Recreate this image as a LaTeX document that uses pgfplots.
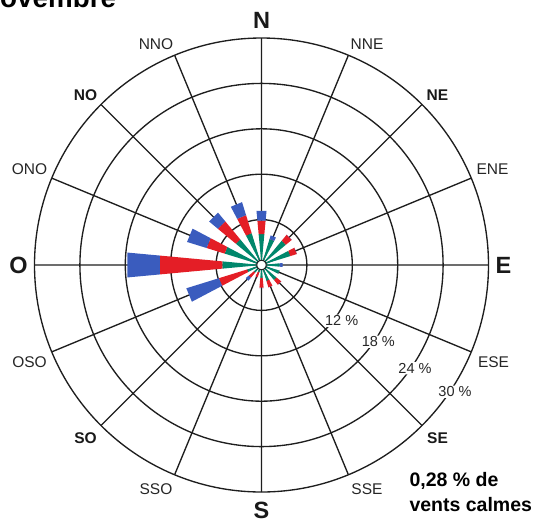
\documentclass[border=0pt]{standalone}
\usepackage{fontspec}
\setmainfont{Liberation Sans}
\usepackage{pgfplots}
\usepackage{pgfplotstable}
\pgfplotsset{compat=1.18}
\usepgfplotslibrary{polar}

\definecolor{roseblue}{RGB}{58,92,190}
\definecolor{rosered}{RGB}{228,30,38}
\definecolor{rosegreen}{RGB}{0,135,108}
\definecolor{gridc}{RGB}{30,30,30}

\newcommand\fbig{\fontsize{23.5}{28}\selectfont\bfseries}
\newcommand\fmid{\fontsize{15.5}{18}\selectfont\bfseries}
\newcommand\freg{\fontsize{15.5}{18}\selectfont}
\newcommand\fpct{\fontsize{14.5}{17}\selectfont}
\newcommand\fcalm{\fontsize{19.5}{23}\selectfont\bfseries}
\newcommand\ftitle{\fontsize{27.8}{32}\selectfont\bfseries}

% wind direction (math angle), cumulative % : green, red, blue
\pgfplotstableread{
ang    g    r     b
90     4.1  5.9   7.2
67.5   3.6  3.6   4.1
45     4.2  5.2   5.2
22.5   4.0  4.9   4.9
360    2.4  2.4   2.8
337.5  2.5  2.5   2.5
315    2.6  3.4   3.4
292.5  2.2  3.1   3.1
270    1.7  3.0   3.0
247.5  1.0  1.7   1.7
225    1.3  2.2   2.7
202.5  2.0  5.9   10.4
180    5.2  13.5  17.8
157.5  5.1  7.6   10.3
135    4.4  7.5   9.0
112.5  4.4  6.9   8.7
}\rose

\begin{document}
\begin{tikzpicture}
\begin{polaraxis}[
  scale only axis, width=454pt, height=454pt,
  xmin=0, xmax=360, ymin=0, ymax=30,
  xtick={0,22.5,...,337.5}, ytick={6,12,18,24},
  xticklabels={}, yticklabels={},
  grid=major,
  major grid style={draw=gridc, line width=1.35pt},
  x axis line style={draw=gridc, line width=1.35pt},
  y axis line style={draw=none},
  major tick length=0pt,
  clip=false,
]
\pgfplotsforeachungrouped \k in {0,...,15}{%
  \pgfplotstablegetelem{\k}{ang}\of\rose
  \pgfmathsetmacro\aL{\pgfplotsretval-5.3}%
  \pgfmathsetmacro\aR{\pgfplotsretval+5.3}%
  \pgfplotstablegetelem{\k}{g}\of\rose \let\vg\pgfplotsretval
  \pgfplotstablegetelem{\k}{r}\of\rose \let\vr\pgfplotsretval
  \pgfplotstablegetelem{\k}{b}\of\rose \let\vb\pgfplotsretval
  \edef\tmp{%
    \noexpand\addplot[draw=none, fill=rosegreen] coordinates {(\aL,0) (\aL,\vg) (\aR,\vg) (\aR,0)} -- cycle;
    \noexpand\addplot[draw=none, fill=rosered] coordinates {(\aL,\vg) (\aL,\vr) (\aR,\vr) (\aR,\vg)} -- cycle;
    \noexpand\addplot[draw=none, fill=roseblue] coordinates {(\aL,\vr) (\aL,\vb) (\aR,\vb) (\aR,\vr)} -- cycle;
  }\tmp
}
% calm circle in the middle
\addplot[fill=white, draw=gridc, line width=1pt] coordinates {
  (0,0.62) (22.5,0.62) (45,0.62) (67.5,0.62) (90,0.62) (112.5,0.62) (135,0.62) (157.5,0.62)
  (180,0.62) (202.5,0.62) (225,0.62) (247.5,0.62) (270,0.62) (292.5,0.62) (315,0.62) (337.5,0.62)} -- cycle;
\coordinate (C) at (axis cs:0,0);
\end{polaraxis}

\pgfresetboundingbox
\path[use as bounding box] ([shift={(-261.5pt,-258pt)}]C) rectangle ([shift={(283.5pt,265pt)}]C);

\node[anchor=base west, inner sep=0, font=\ftitle] at ([shift={(-281.6pt,257.7pt)}]C) {Novembre};

\foreach \x/\y/\t in {0/245/N, 242/0/E, 0/-245/S, -243/0/O}
  \node[font=\fbig, text=black!90] at ([shift={(\x pt,\y pt)}]C) {\t};
\foreach \x/\y/\t in {176/170/NE, 176/-173/SE, -176/-173/SO, -176/170/NO}
  \node[font=\fmid, text=black!90] at ([shift={(\x pt,\y pt)}]C) {\t};
\foreach \x/\y/\t in {105.5/221/NNE, 231/96/ENE, 232/-97/ESE, 105.5/-224/SSE,
                      -105.5/-224/SSO, -232/-97/OSO, -232/96/ONO, -105.5/221/NNO}
  \node[font=\freg, text=black!85] at ([shift={(\x pt,\y pt)}]C) {\t};

\foreach \x/\y/\t in {80.2/-55.7/12, 116.8/-76.7/18, 153.5/-103.3/24, 193.5/-126.7/30}
  \node[font=\fpct, text=black!85, fill=white, inner sep=1pt, rounded corners=3pt]
    at ([shift={(\x pt,\y pt)}]C) {\t~\%};

\node[anchor=base west, inner sep=0, font=\fcalm] at ([shift={(147.8pt,-221pt)}]C) {0,28 \% de};
\node[anchor=base west, inner sep=0, font=\fcalm] at ([shift={(147.8pt,-246pt)}]C) {vents calmes};
\end{tikzpicture}
\end{document}
